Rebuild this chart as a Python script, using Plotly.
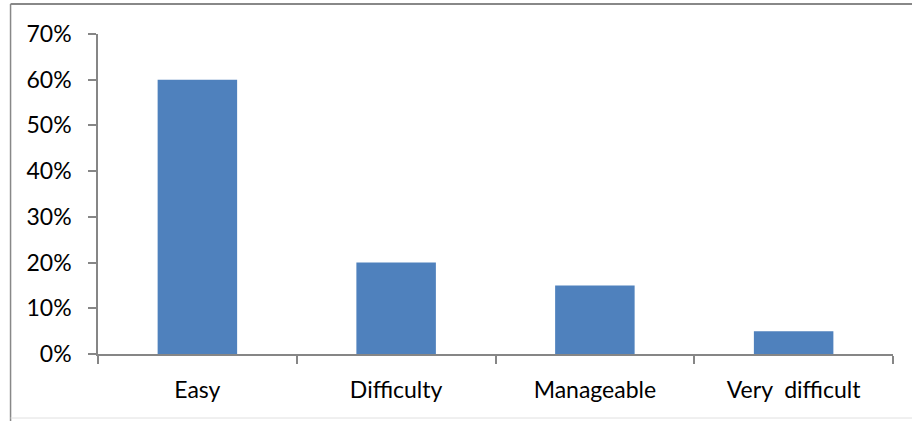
import plotly.graph_objects as go

categories = ["Easy", "Difficulty", "Manageable", "Very\u00a0\u00a0difficult"]
values = [0.60, 0.20, 0.15, 0.05]
y_ticks = [0, 0.1, 0.2, 0.3, 0.4, 0.5, 0.6, 0.7]

fig = go.Figure(go.Bar(x=categories, y=values, marker=dict(color="#4F81BD", line=dict(width=0))))

axis_color = "#868686"
fig.update_layout(
    width=912, height=421,
    margin=dict(l=98, r=19, t=34, b=67),
    paper_bgcolor="white", plot_bgcolor="white",
    bargap=0.6,
    showlegend=False,
    font=dict(family="Lato, Carlito, Calibri, sans-serif", size=23, color="black"),
    xaxis=dict(
        showline=True, linecolor=axis_color, linewidth=1.5,
        ticks="outside", tickson="boundaries", ticklen=8, tickcolor=axis_color, tickwidth=1.5,
        showgrid=False, zeroline=False, ticklabelstandoff=15,
    ),
    yaxis=dict(
        range=[0, 0.7], tickvals=y_ticks, tickformat=".0%",
        showline=True, linecolor=axis_color, linewidth=1.5,
        ticks="outside", ticklen=8, tickcolor=axis_color, tickwidth=1.5,
        showgrid=False, zeroline=False, ticklabelstandoff=12,
    ),
    shapes=[
        dict(type="line", xref="paper", yref="paper", x0=-0.110, x1=1.05, y0=1.0936, y1=1.0936,
             line=dict(color="#888888", width=2)),
        dict(type="line", xref="paper", yref="paper", x0=-0.110, x1=-0.110, y0=1.0936, y1=-0.21,
             line=dict(color="#888888", width=1.5)),
        dict(type="line", xref="paper", yref="paper", x0=-0.110, x1=1.05, y0=-0.2, y1=-0.2,
             line=dict(color="#e0e0e0", width=1)),
    ],
)

fig.write_html("out.html", config={"displayModeBar": False},
               post_script="document.body.style.margin='0';document.body.style.overflow='hidden';")
